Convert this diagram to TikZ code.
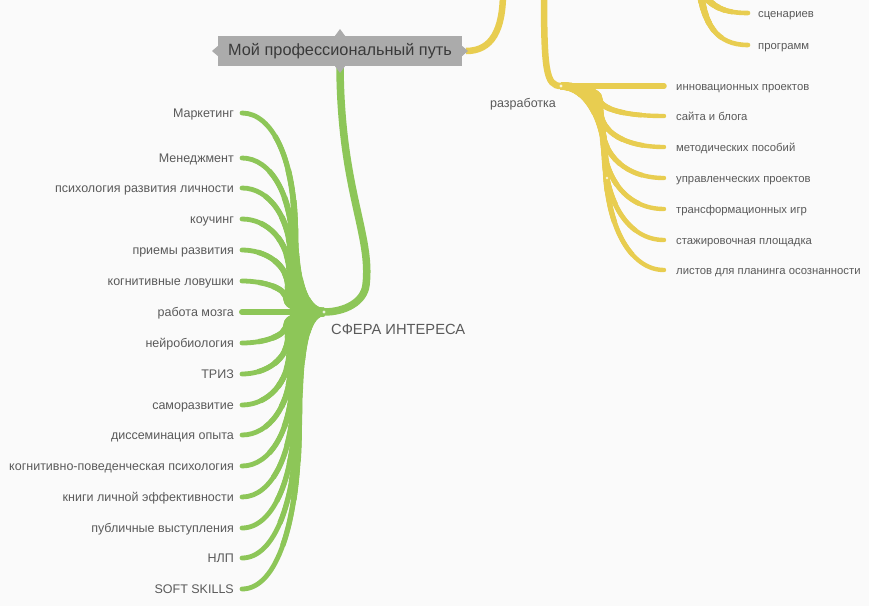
\documentclass[tikz,border=0pt]{standalone}
\usepackage{fontspec}
\setmainfont{Liberation Sans}
\usetikzlibrary{calc}
\pgfdeclarelayer{bg}
\pgfsetlayers{bg,main}
\definecolor{gr}{HTML}{8DC658}
\definecolor{ye}{HTML}{E8CD50}
\definecolor{txt}{HTML}{5A5A5A}
\definecolor{boxg}{HTML}{ABABAB}
\definecolor{boxt}{HTML}{3A3A3A}
\definecolor{bgc}{HTML}{FAFAFA}
% stepped (tapered) branch: #1 colour, #2 approx length, #3 path, #4 end width (pt)
\newcommand{\stepbr}[4]{%
  \foreach \ww/\ff in {1.7/0.08,1.6/0.16,1.5/0.25,1.4/0.34,1.3/0.44,1.2/0.55,1.1/0.68} {%
    \pgfmathsetmacro\wid{\ww*#4}%
    \pgfmathsetmacro\dd{\ff*#2}%
    \draw[#1,line width=\wid pt,dash pattern=on \dd pt off 3000pt] #3;}%
  \draw[#1,line width=#4 pt,line cap=round] #3;}
\begin{document}
\begin{tikzpicture}[x=1pt,y=-1pt,
  leafg/.style={anchor=base east,text=txt,font=\fontsize{12.5}{14}\selectfont,inner sep=0pt},
  leafy/.style={anchor=base west,text=txt,font=\fontsize{11.3}{13}\selectfont,inner sep=0pt},
  dot/.style={fill=white,opacity=0.8}]
\useasboundingbox (0,0) rectangle (869,606);
\begin{pgfonlayer}{bg}
\fill[bgc] (0,0) rectangle (869,606);
\end{pgfonlayer}

% root node
\node[fill=boxg,text=boxt,font=\fontsize{16.3}{18}\selectfont,minimum width=244pt,minimum height=30pt,inner sep=0pt] (root) at (340,51) {Мой профессиональный путь};
\fill[boxg] ($(root.north)+(-5,0)$) -- (340,29) -- ($(root.north)+(5,0)$) -- cycle;
\fill[boxg] ($(root.south)+(-5,0)$) -- (340,73) -- ($(root.south)+(5,0)$) -- cycle;
\fill[boxg] ($(root.west)+(0,-5)$) -- (212,51) -- ($(root.west)+(0,5)$) -- cycle;
\fill[boxg] ($(root.east)+(0,-5)$) -- (468,51) -- ($(root.east)+(0,5)$) -- cycle;

% coordinates
\coordinate (rs) at (340,68);
\coordinate (re) at (466,51);
\coordinate (gm) at (366,285);
\coordinate (gj) at (324,312);
\coordinate (offA) at (503,-8);
\coordinate (offB) at (544,-8);
\coordinate (offC) at (700,-10);
\coordinate (yj) at (561,86);

\begin{pgfonlayer}{bg}
% green main branch
\draw[gr,line width=7.5pt] (rs) .. controls (341,190) and (372,235) .. (gm) .. controls (364,302) and (345,312) .. (gj);
% yellow branches
\draw[ye,line width=6.5pt] (re) .. controls (492,51) and (503,30) .. (offA);
\draw[ye,line width=6.5pt] (offB) .. controls (544,70) and (546,86) .. (yj);
\end{pgfonlayer}

% centre labels
\node[anchor=base west,text=txt,font=\fontsize{14.7}{16}\selectfont,inner sep=0pt] (sfera) at (331,334.5) {СФЕРА ИНТЕРЕСА};
\node[anchor=base west,text=txt,font=\fontsize{12.5}{14}\selectfont,inner sep=0pt] (razr) at (490,107) {разработка};

% top right leaves
\node[leafy] (t1) at (758,17) {сценариев};
\node[leafy] (t2) at (758,49) {программ};
\coordinate (te1) at (748,13);
\coordinate (te2) at (748,45);
\begin{pgfonlayer}{bg}
\stepbr{ye}{60}{(offC) .. controls (712,8) and (725,13) .. (te1)}{4.6}
\stepbr{ye}{80}{(offC) .. controls (704,22) and (715,45) .. (te2)}{4.6}
\end{pgfonlayer}

% green leaves
\foreach \y/\t [count=\i] in {113/Маркетинг, 158/Менеджмент, 188/психология развития личности,
  219/коучинг, 250/приемы развития, 281/когнитивные ловушки, 312/работа мозга,
  343/нейробиология, 374/ТРИЗ, 405/саморазвитие, 435/диссеминация опыта,
  466/когнитивно-поведенческая психология, 497/книги личной эффективности,
  528/публичные выступления, 558/НЛП, 589/SOFT SKILLS} {
  \node[leafg] (g\i) at (234,\y+4.4) {\t};
  \pgfmathsetmacro\dv{\y-312}
  \pgfmathsetmacro\adv{abs(\dv)}
  \pgfmathsetmacro\mxv{285+0.05*\adv}
  \pgfmathsetmacro\myv{312+0.4*\dv}
  \pgfmathsetmacro\Lv{\adv+82}
  \coordinate (gc1\i) at (302,312);
  \coordinate (gc2\i) at (\mxv,{312+0.2*\dv});
  \coordinate (gm\i) at (\mxv,\myv);
  \coordinate (gc3\i) at (\mxv,{\myv+0.6*(\y-\myv)});
  \coordinate (gc4\i) at ({\mxv-22},\y);
  \coordinate (ge\i) at (242,\y);
  \begin{pgfonlayer}{bg}
  \ifnum\y=312
    \draw[gr,line width=6pt,line cap=round] (gj) -- (ge\i);
  \else
    \stepbr{gr}{\Lv}{(gj) .. controls (gc1\i) and (gc2\i) .. (gm\i) .. controls (gc3\i) and (gc4\i) .. (ge\i)}{4.8}
  \fi
  \end{pgfonlayer}
}

% yellow leaves
\foreach \y/\t [count=\i] in {86/инновационных проектов, 116/сайта и блога,
  147/методических пособий, 178/управленческих проектов, 209/трансформационных игр,
  240/стажировочная площадка, 270/листов для планинга осознанности} {
  \node[leafy] (y\i) at (676,\y+4) {\t};
  \pgfmathsetmacro\dv{\y-86}
  \pgfmathsetmacro\mxv{598+0.04*\dv}
  \pgfmathsetmacro\myv{86+0.4*\dv}
  \pgfmathsetmacro\Lv{\dv+103}
  \coordinate (yc1\i) at ({561+0.6*(\mxv-561)},86);
  \coordinate (yc2\i) at (\mxv,{86+0.2*\dv});
  \coordinate (ym\i) at (\mxv,\myv);
  \coordinate (yc3\i) at (\mxv,{\myv+0.6*(\y-\myv)});
  \coordinate (yc4\i) at ({\mxv+25},\y);
  \coordinate (ye\i) at (664,\y);
  \begin{pgfonlayer}{bg}
  \ifnum\y=86
    \draw[ye,line width=5.5pt,line cap=round] (yj) -- (ye\i);
  \else
    \stepbr{ye}{\Lv}{(yj) .. controls (yc1\i) and (yc2\i) .. (ym\i) .. controls (yc3\i) and (yc4\i) .. (ye\i)}{4.4}
  \fi
  \end{pgfonlayer}
}

% junction dots
\fill[dot] (gj) circle[radius=1.6pt];
\fill[dot] (yj) circle[radius=1.6pt];
\fill[dot] (607,178) circle[radius=1.4pt];
\end{tikzpicture}
\end{document}
